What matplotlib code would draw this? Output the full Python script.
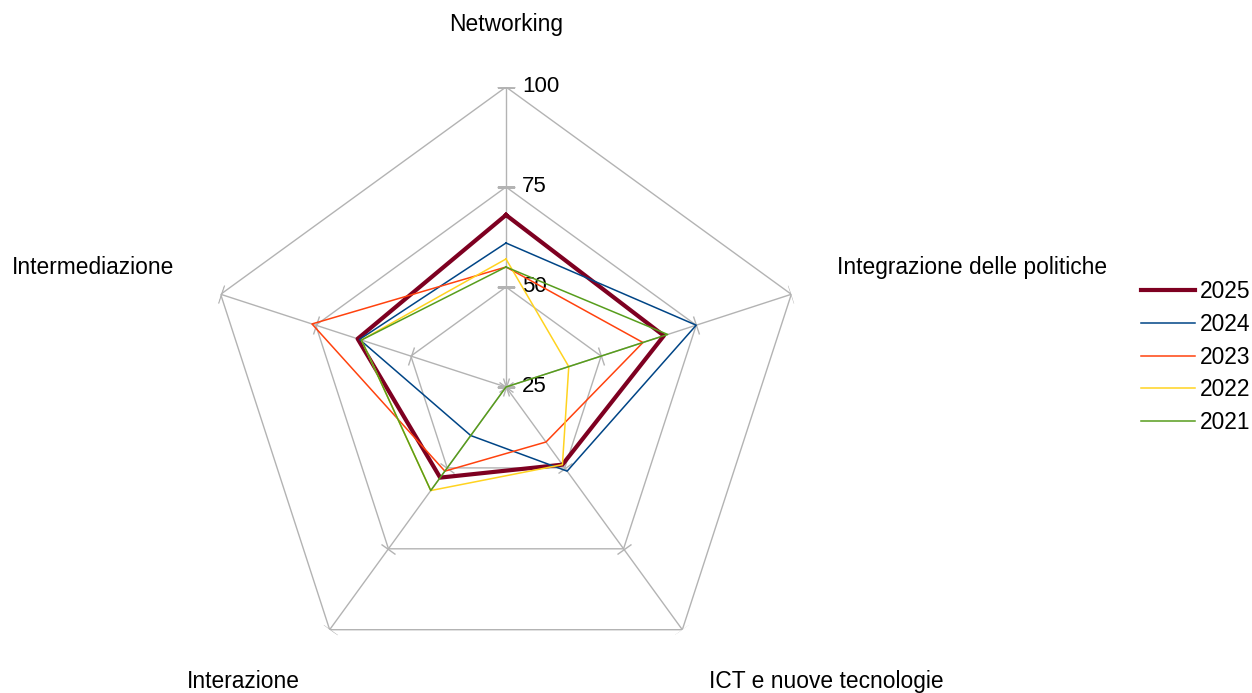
import matplotlib.pyplot as plt
import numpy as np
from matplotlib.markers import MarkerStyle
from matplotlib.transforms import Affine2D

categories = ['Networking', 'Integrazione delle politiche', 'ICT e nuove tecnologie',
              'Interazione', 'Intermediazione']
years = ['2025', '2024', '2023', '2022', '2021']
v2025 = [68, 66.5, 49, 53, 64]
v2024 = [61, 75, 51, 40, 63.5]
v2023 = [55, 61, 42, 51, 76]
v2022 = [57, 41.5, 49, 57, 63]
v2021 = [55, 67.5, 25, 57, 63]
ticks = [25, 50, 75, 100]

colors = ['#7e0021', '#004586', '#ff420e', '#ffd320', '#579d1c']
widths = [3, 1.1, 1.1, 1.1, 1.1]
grey = '#b3b3b3'

plt.rcParams['font.family'] = ['Liberation Sans', 'DejaVu Sans']

fig = plt.figure(figsize=(12.52, 6.93), dpi=100)
ax = fig.add_axes([206/1252, 6/693, 600/1252, 600/693], projection='polar')
ax.set_theta_zero_location('N')
ax.set_theta_direction(-1)
ax.set_ylim(25, 100)
ax.grid(False)
ax.spines['polar'].set_visible(False)
ax.set_xticks([])
ax.set_yticks([])
ax.patch.set_alpha(0)

angles = np.linspace(0, 2*np.pi, len(categories), endpoint=False)
closed = np.append(angles, angles[0])

# pentagon grid + spokes with little tick marks
for r in ticks[1:]:
    ax.plot(closed, [r]*len(closed), color=grey, lw=1, zorder=1)
for a in angles:
    ax.plot([a, a], [25, 100], color=grey, lw=1, zorder=1)
    m = MarkerStyle('_', transform=Affine2D().rotate_deg(-np.degrees(a)))
    ax.plot([a]*len(ticks), ticks, ls='none', marker=m, ms=13, mew=1, color=grey, zorder=1)

for t in ticks:
    ax.annotate(str(t), (0, t), xytext=(11.5, 0), textcoords='offset points',
                ha='left', va='center', fontsize=16)

series = [v2025, v2024, v2023, v2022, v2021]
for vals, yr, c, w in zip(series, years, colors, widths):
    ax.plot(closed, vals + vals[:1], color=c, lw=w, label=yr, zorder=3)

# category labels (offsets in px from outer vertex)
offs = [(0, 62, 'center'), (46, 27, 'left'), (27, -52, 'left'),
        (-86, -52, 'center'), (-46, 27, 'right')]
for a, name, (dx, dy, ha) in zip(angles, categories, offs):
    ax.annotate(name, (a, 100), xytext=(dx*0.72, dy*0.72), textcoords='offset points',
                ha=ha, va='center', fontsize=16.4, annotation_clip=False)

fig.legend(loc='upper left', bbox_to_anchor=(1141/1252, 1-280/693), frameon=False,
           fontsize=16.4, handlelength=2.35, handletextpad=0.22, labelspacing=0.43,
           borderpad=0, borderaxespad=0)

fig.savefig('out.png', dpi=100)
